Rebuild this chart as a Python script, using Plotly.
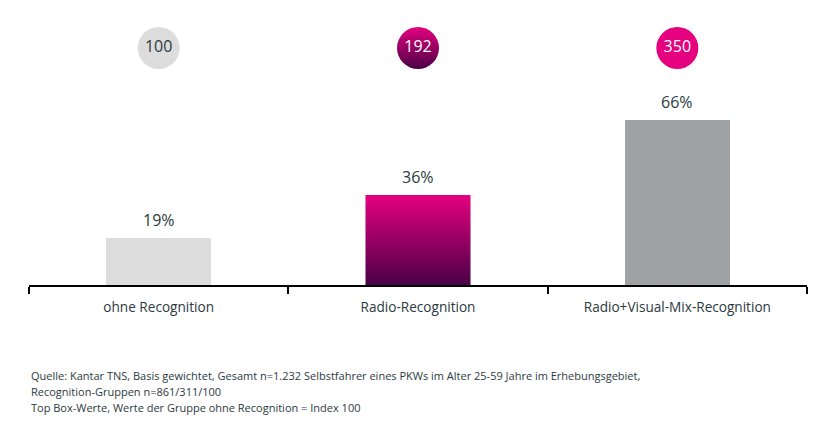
import plotly.graph_objects as go

categories = ["ohne Recognition", "Radio-Recognition", "Radio+Visual-Mix-Recognition"]
values = [19, 36, 66]
index_values = [100, 192, 350]
notes = [
    "Quelle: Kantar TNS, Basis gewichtet, Gesamt n=1.232 Selbstfahrer eines PKWs im Alter 25-59 Jahre im Erhebungsgebiet,",
    "Recognition-Gruppen n=861/311/100",
    "Top Box-Werte, Werte der Gruppe ohne Recognition = Index 100",
]

MAGENTA = "#e4007f"
PURPLE = "#4a0046"
LIGHT = "#dcdcdd"
GREY = "#a0a1a4"
TEXT = "#2b3a40"
FONT = "Open Sans"
BAR_W = 0.405
CIRCLE_Y = 94.8
PLOT_H = 277  # page body has an 8px margin, figure is sized to compensate

fig = go.Figure()

# plain bars (first and third)
fig.add_trace(go.Bar(
    x=[categories[0], categories[2]], y=[values[0], values[2]],
    marker=dict(color=[LIGHT, GREY], line_width=0),
    width=BAR_W, hoverinfo="skip", showlegend=False,
))

# gradient bar in the middle, drawn as a filled polygon
x0, x1 = 1 - BAR_W / 2, 1 + BAR_W / 2
fig.add_trace(go.Scatter(
    x=[x0, x1, x1, x0, x0], y=[0, 0, values[1], values[1], 0],
    xaxis="x2", mode="lines", line_width=0, fill="toself",
    fillgradient=dict(type="vertical", colorscale=[[0, PURPLE], [1, MAGENTA]]),
    hoverinfo="skip", showlegend=False,
))

# index circles
fig.add_trace(go.Scatter(
    x=[0, 1, 2], y=[CIRCLE_Y] * 3, xaxis="x2", mode="markers+text",
    marker=dict(size=42, color=[LIGHT, MAGENTA, MAGENTA], line_width=0,
                gradient=dict(type=["none", "vertical", "none"], color=[LIGHT, PURPLE, MAGENTA])),
    text=[str(v) for v in index_values], textposition="middle center",
    textfont=dict(family=FONT, size=16, color=[TEXT, "white", "white"]),
    hoverinfo="skip", showlegend=False, cliponaxis=False,
))

for i, v in enumerate(values):
    fig.add_annotation(x=i, y=v, xref="x2", yref="y", text=f"{v}%", showarrow=False,
                       yanchor="bottom", yshift=5, font=dict(family=FONT, size=16, color=TEXT))

for k, line in enumerate(notes):
    fig.add_annotation(x=0, y=-(90 + 16 * k) / PLOT_H, xref="paper", yref="paper",
                       text=line, showarrow=False, xanchor="left", yanchor="middle",
                       font=dict(family=FONT, size=11, color=TEXT))

fig.update_layout(
    width=827, height=426, margin=dict(l=21, r=28, t=0, b=426 - PLOT_H),
    paper_bgcolor="white", plot_bgcolor="white",
    font=dict(family=FONT, color=TEXT),
    xaxis=dict(type="category", categoryorder="array", categoryarray=categories,
               range=[-0.5, 2.5], showline=True, linecolor="black", linewidth=2,
               ticks="outside", tickson="boundaries", ticklen=7, tickwidth=2, tickcolor="black",
               ticklabelstandoff=9,
               tickfont=dict(family=FONT, size=13.6, color=TEXT), showgrid=False, zeroline=False),
    xaxis2=dict(overlaying="x", range=[-0.5, 2.5], visible=False),
    yaxis=dict(range=[0, PLOT_H / 2.5], visible=False, showgrid=False, zeroline=False),
    bargap=0,
)

fig.write_html("out.html")
